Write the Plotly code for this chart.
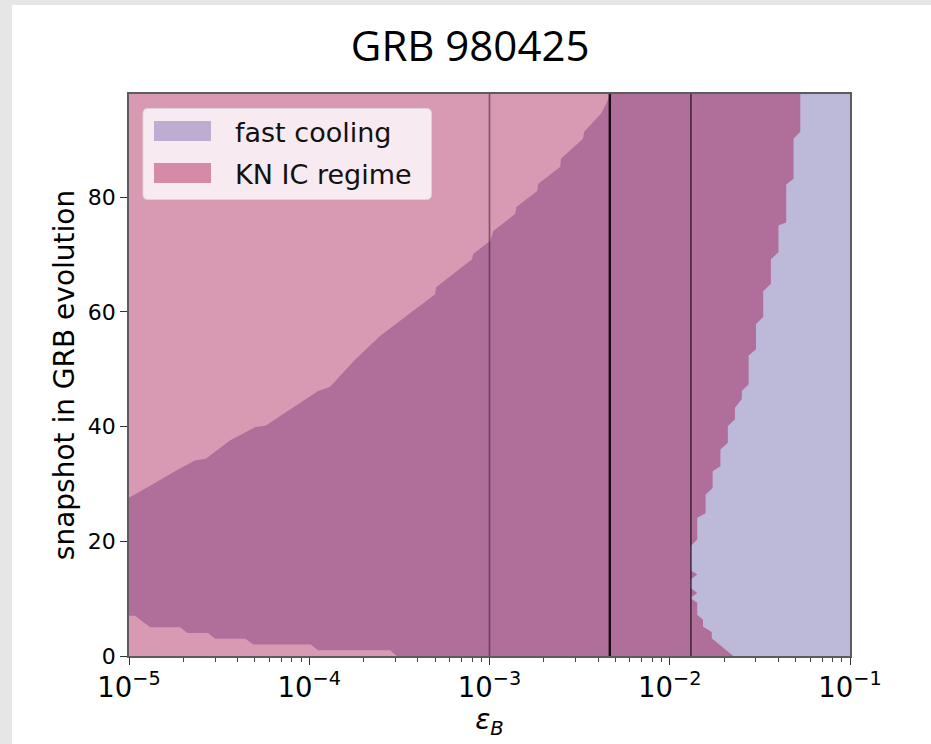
import plotly.graph_objects as go

# ---- data -------------------------------------------------------------
EPS_MIN, EPS_MAX = 1e-5, 1e-1
SNAP_MIN, SNAP_MAX = 0, 98

# upper edge of the Klein-Nishina IC region (above this line, left side)
kn_upper_eps = [1.00e-5, 1.31e-5, 1.80e-5, 2.32e-5, 2.67e-5, 3.63e-5, 5.00e-5,
                5.75e-5, 7.82e-5, 1.12e-4, 1.30e-4, 1.80e-4, 2.47e-4, 4.99e-4,
                5.06e-4, 8.00e-4, 8.11e-4, 1.01e-3, 1.05e-3, 1.39e-3, 1.41e-3,
                1.84e-3, 1.86e-3, 2.47e-3, 2.49e-3, 3.30e-3, 3.35e-3, 4.16e-3,
                4.50e-3, 4.67e-3]
kn_upper_snap = [27.6, 29.7, 32.2, 34.1, 34.4, 37.6, 39.9,
                 40.2, 43.0, 46.2, 46.9, 51.7, 55.8, 63.1,
                 64.3, 69.2, 70.1, 72.4, 74.1, 77.1, 78.3,
                 81.1, 82.3, 85.3, 86.7, 90.2, 91.4, 94.6,
                 96.7, 98.0]

# lower edge of the Klein-Nishina IC region (early snapshots, small eps_B)
kn_lower_eps = [1.00e-5, 1.08e-5, 1.31e-5, 1.92e-5, 2.11e-5, 2.75e-5, 3.00e-5,
                4.41e-5, 4.90e-5, 1.02e-4, 1.12e-4, 2.81e-4, 3.06e-4]
kn_lower_snap = [7.0, 7.0, 5.0, 5.0, 4.0, 4.0, 3.0,
                 3.0, 2.0, 2.0, 1.0, 1.0, 0.0]

# boundary of the fast-cooling region (to the right of this line)
fc_snap = [0, 3.1, 4.2, 5.1, 6.3, 7.2, 9.3, 10.1, 11.0, 11.9,
           13.3, 14.2, 15.0, 19.1, 20.3, 24.1, 24.9, 28.1, 29.3, 32.2,
           33.1, 36.0, 37.2, 40.1, 41.3, 43.3, 44.8, 46.2, 47.4, 52.4,
           53.5, 57.9, 59.1, 63.6, 64.9, 69.2, 70.4, 75.1, 75.6, 82.2,
           83.2, 90.2, 91.4, 98.0]
fc_eps = [2.25e-2, 1.71e-2, 1.71e-2, 1.53e-2, 1.53e-2, 1.42e-2, 1.42e-2, 1.30e-2, 1.42e-2, 1.30e-2,
          1.30e-2, 1.42e-2, 1.30e-2, 1.30e-2, 1.42e-2, 1.42e-2, 1.58e-2, 1.58e-2, 1.73e-2, 1.73e-2,
          1.91e-2, 1.91e-2, 2.10e-2, 2.10e-2, 2.30e-2, 2.30e-2, 2.51e-2, 2.51e-2, 2.74e-2, 2.74e-2,
          3.01e-2, 3.01e-2, 3.30e-2, 3.30e-2, 3.64e-2, 3.64e-2, 4.01e-2, 4.01e-2, 4.43e-2, 4.43e-2,
          4.86e-2, 4.86e-2, 5.30e-2, 5.30e-2]

# reference eps_B values marked with vertical lines
marker_eps = [1.0e-3, 4.65e-3, 1.31e-2]
marker_colors = ["rgba(45,30,40,0.55)", "rgba(25,12,20,1.0)", "rgba(45,30,40,0.8)"]
marker_widths = [1.6, 2.4, 1.7]

legend_labels = ["fast cooling", "KN IC regime"]
legend_colors = ["#bdaed1", "#d58ba8"]

# ---- colours ----------------------------------------------------------
DARK = "#b06e9a"
PINK = "#d89ab2"
LAVENDER = "#bdb9d9"

fig = go.Figure()

# KN region, upper-left part
fig.add_trace(go.Scatter(
    x=kn_upper_eps + [EPS_MIN],
    y=kn_upper_snap + [SNAP_MAX],
    fill="toself", fillcolor=PINK, mode="none",
    name="KN IC regime", showlegend=False, hoverinfo="skip"))

# KN region, bottom-left sliver
fig.add_trace(go.Scatter(
    x=[EPS_MIN] + kn_lower_eps,
    y=[SNAP_MIN] + kn_lower_snap,
    fill="toself", fillcolor=PINK, mode="none",
    name="KN IC regime", showlegend=False, hoverinfo="skip"))

# fast-cooling region
fig.add_trace(go.Scatter(
    x=fc_eps + [EPS_MAX, EPS_MAX],
    y=fc_snap + [SNAP_MAX, SNAP_MIN],
    fill="toself", fillcolor=LAVENDER, mode="none",
    name="fast cooling", showlegend=False, hoverinfo="skip"))

for v, c, w in zip(marker_eps, marker_colors, marker_widths):
    fig.add_trace(go.Scatter(
        x=[v, v], y=[SNAP_MIN, SNAP_MAX], mode="lines",
        line=dict(color=c, width=w), showlegend=False, hoverinfo="skip"))

# ---- page geometry ----------------------------------------------------
W, H = 931, 744
L, R, T, B = 129, 81, 94, 88
pw, ph = W - L - R, H - T - B


def px(xp):
    return (xp - L) / pw


def py(yp):
    return (H - B - yp) / ph


shapes = []
# grey frame strips at the page's left and top edges
shapes.append(dict(type="rect", xref="paper", yref="paper", layer="below",
                   x0=px(0), x1=px(12), y0=py(H), y1=py(0),
                   fillcolor="#e6e6e6", line=dict(width=0)))
shapes.append(dict(type="rect", xref="paper", yref="paper", layer="below",
                   x0=px(0), x1=px(W), y0=py(5), y1=py(0),
                   fillcolor="#e6e6e6", line=dict(width=0)))

# legend box with rounded corners
bx0, bx1, by0, by1, r = 143, 431.5, 108.5, 199.5, 5


def rr_path(x0, x1, y0, y1, rad):
    rx, ry = rad / pw, rad / ph
    X0, X1, Y0, Y1 = px(x0), px(x1), py(y1), py(y0)
    return (f"M{X0+rx},{Y0} L{X1-rx},{Y0} Q{X1},{Y0} {X1},{Y0+ry} "
            f"L{X1},{Y1-ry} Q{X1},{Y1} {X1-rx},{Y1} L{X0+rx},{Y1} "
            f"Q{X0},{Y1} {X0},{Y1-ry} L{X0},{Y0+ry} Q{X0},{Y0} {X0+rx},{Y0} Z")


shapes.append(dict(type="path", xref="paper", yref="paper",
                   path=rr_path(bx0, bx1, by0, by1, r),
                   fillcolor="rgba(248,236,242,0.97)",
                   line=dict(color="#e0d2d9", width=1)))

annotations = []
for i, (lab, col) in enumerate(zip(legend_labels, legend_colors)):
    yc = 131 + i * 42
    shapes.append(dict(type="rect", xref="paper", yref="paper",
                       x0=px(154), x1=px(211), y0=py(yc + 10), y1=py(yc - 10),
                       fillcolor=col, line=dict(width=0)))
    annotations.append(dict(xref="paper", yref="paper", x=px(233), y=py(yc + 1),
                            xanchor="left", yanchor="middle", showarrow=False,
                            text=lab, font=dict(family="DejaVu Sans", size=27, color="#111")))

fig.update_layout(
    width=W, height=H,
    margin=dict(l=L, r=R, t=T, b=B, autoexpand=False),
    paper_bgcolor="white",
    plot_bgcolor=DARK,
    title=dict(text="GRB 980425", x=0.505, xanchor="center",
               y=1 - 46 / H, yanchor="middle", yref="container",
               font=dict(family="Open Sans", size=42, color="black")),
    shapes=shapes,
    annotations=annotations,
    showlegend=False,
    font=dict(family="DejaVu Sans", color="black"),
)

fig.update_xaxes(
    type="log", range=[-5, -1], dtick=1, exponentformat="power",
    showgrid=False, zeroline=False,
    showline=True, mirror=True, linecolor="#5c5c5c", linewidth=1.5,
    ticks="outside", ticklen=7, tickwidth=1.3, tickcolor="#333",
    tickfont=dict(family="DejaVu Sans", size=22, color="black"),
    minor=dict(ticks="outside", ticklen=4, tickwidth=1, tickcolor="#444", dtick="D1", showgrid=False),
    title=dict(text="<i>ε</i><sub><i>B</i></sub>", standoff=1,
               font=dict(family="DejaVu Sans", size=28, color="black")),
)

fig.update_yaxes(
    range=[SNAP_MIN, SNAP_MAX], dtick=20, tick0=0,
    showgrid=False, zeroline=False,
    showline=True, mirror=True, linecolor="#5c5c5c", linewidth=1.5,
    ticks="outside", ticklen=7, tickwidth=1.3, tickcolor="#333",
    tickfont=dict(family="DejaVu Sans", size=22, color="black"),
    title=dict(text="snapshot in GRB evolution", standoff=5,
               font=dict(family="DejaVu Sans", size=28, color="black")),
)

fig.write_html("out.html")
